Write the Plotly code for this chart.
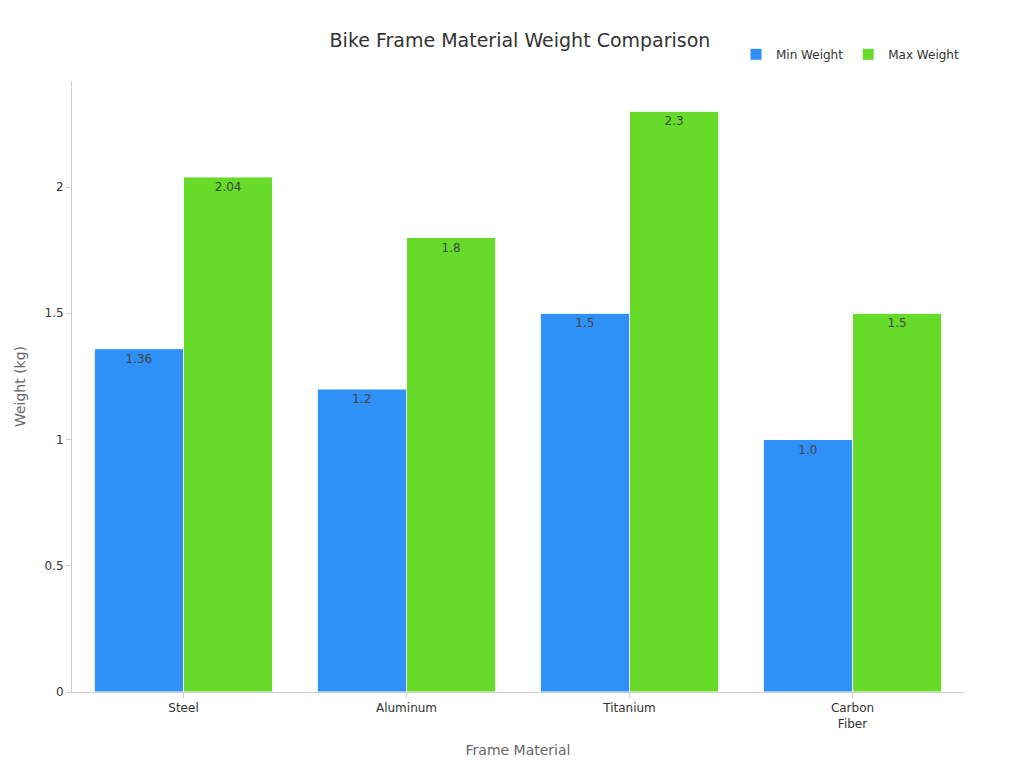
import plotly.graph_objects as go

materials = ["Steel", "Aluminum", "Titanium", "Carbon<br>Fiber"]
min_weight = [1.36, 1.2, 1.5, 1.0]
max_weight = [2.04, 1.8, 2.3, 1.5]
min_labels = ["1.36", "1.2", "1.5", "1.0"]
max_labels = ["2.04", "1.8", "2.3", "1.5"]

fig = go.Figure()
fig.add_trace(go.Bar(
    x=materials, y=min_weight, name="Min Weight", text=min_labels,
    marker={"color": "#2f90f7", "line": {"color": "white", "width": 1}},
))
fig.add_trace(go.Bar(
    x=materials, y=max_weight, name="Max Weight", text=max_labels,
    marker={"color": "#66db29", "line": {"color": "white", "width": 1}},
))
fig.update_traces(textposition="inside", insidetextanchor="end",
                  textfont={"color": "#444", "size": 12})

fig.update_layout(
    width=1024, height=768,
    font={"family": "DejaVu Sans", "color": "#333"},
    title={"text": "Bike Frame Material Weight Comparison", "x": 0.5, "xanchor": "center",
           "y": 0.966, "font": {"size": 19, "color": "#333"}},
    plot_bgcolor="white", paper_bgcolor="white",
    barmode="group", bargap=0.2, bargroupgap=0,
    margin={"l": 58, "r": 68, "t": 73, "b": 84},
    legend={"orientation": "h", "x": 1, "xanchor": "right", "y": 1.02, "yanchor": "bottom",
            "font": {"size": 12}},
    xaxis={"title": {"text": "Frame Material", "font": {"size": 14, "color": "#666"}},
           "showline": True, "linecolor": "#ccc", "ticks": "outside", "tickcolor": "#ccc",
           "tickfont": {"size": 12}},
    yaxis={"title": {"text": "Weight (kg)", "font": {"size": 14, "color": "#666"}},
           "range": [0, 2.42], "showgrid": False, "showline": True, "linecolor": "#ccc",
           "ticks": "outside", "tickcolor": "#ccc", "tickvals": [0, 0.5, 1, 1.5, 2],
           "ticktext": ["0", "0.5", "1", "1.5", "2"], "zeroline": False,
           "tickfont": {"size": 12}},
)

fig.write_html("out.html")
